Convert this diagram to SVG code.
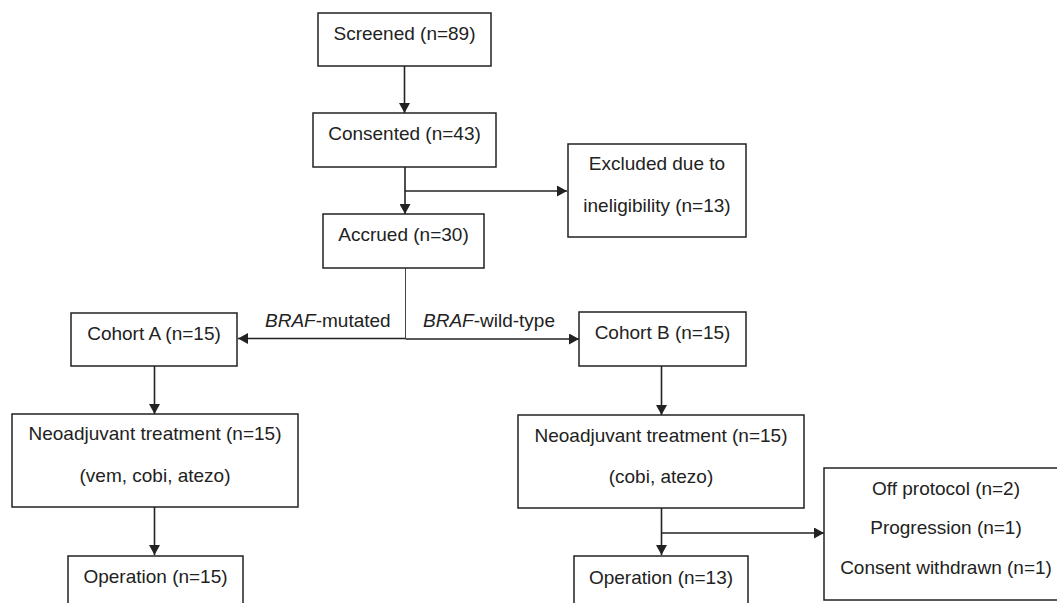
<svg xmlns="http://www.w3.org/2000/svg" width="1057" height="603" viewBox="0 0 1057 603">
<style>
.box{fill:#fff;stroke:#222;stroke-width:1.5}
.t{font-family:"Liberation Sans",Arial,sans-serif;font-size:19px;fill:#222;text-anchor:middle}
.lab{font-family:"Liberation Sans",Arial,sans-serif;font-size:19px;fill:#222}
.c{fill:none;stroke:#222;stroke-width:1.6}
.thin{fill:none;stroke:#444;stroke-width:1}
</style>
<defs>
<marker id="ah" viewBox="0 0 10 11" refX="10" refY="5.5" markerWidth="10" markerHeight="11" markerUnits="userSpaceOnUse" orient="auto">
<path d="M0,0 L10,5.5 L0,11 Z" fill="#222"/>
</marker>
</defs>
<rect width="1057" height="603" fill="#fff"/>
<g id="connectors">
<line class="c" x1="404.5" y1="66" x2="404.5" y2="113" marker-end="url(#ah)"/>
<line class="c" x1="405" y1="167" x2="405" y2="214" marker-end="url(#ah)"/>
<line class="c" x1="405" y1="191" x2="567" y2="191" marker-end="url(#ah)"/>
<line class="thin" x1="405.5" y1="268" x2="405.5" y2="338.5"/>
<line class="c" x1="405.5" y1="338.5" x2="238" y2="338.5" marker-end="url(#ah)"/>
<line class="c" x1="405.5" y1="339" x2="579" y2="339" marker-end="url(#ah)"/>
<line class="c" x1="154.5" y1="366" x2="154.5" y2="414" marker-end="url(#ah)"/>
<line class="c" x1="154.5" y1="507" x2="154.5" y2="555" marker-end="url(#ah)"/>
<line class="c" x1="661.5" y1="366" x2="661.5" y2="415" marker-end="url(#ah)"/>
<line class="c" x1="661.5" y1="508" x2="661.5" y2="555" marker-end="url(#ah)"/>
<line class="c" x1="661.5" y1="533" x2="824" y2="533" marker-end="url(#ah)"/>
<text class="lab" x="265" y="327"><tspan font-style="italic">BRAF</tspan>-mutated</text>
<text class="lab" x="423" y="327"><tspan font-style="italic">BRAF</tspan>-wild-type</text>
</g>
<g id="screened">
<rect class="box" x="318" y="13" width="173" height="53"/>
<text class="t" x="404.5" y="39.5">Screened (n=89)</text>
</g>
<g id="consented">
<rect class="box" x="313" y="113" width="183" height="54"/>
<text class="t" x="404.5" y="140">Consented (n=43)</text>
</g>
<g id="excluded">
<rect class="box" x="568" y="144" width="178" height="93"/>
<text class="t" x="657" y="170">Excluded due to</text>
<text class="t" x="657" y="212">ineligibility (n=13)</text>
</g>
<g id="accrued">
<rect class="box" x="323" y="214" width="161" height="54"/>
<text class="t" x="403.5" y="241">Accrued (n=30)</text>
</g>
<g id="cohortA">
<rect class="box" x="71" y="313" width="166" height="53"/>
<text class="t" x="154" y="339.5">Cohort A (n=15)</text>
</g>
<g id="cohortB">
<rect class="box" x="579" y="312" width="167" height="54"/>
<text class="t" x="662.5" y="339">Cohort B (n=15)</text>
</g>
<g id="neoA">
<rect class="box" x="12" y="414" width="286" height="93"/>
<text class="t" x="155" y="440">Neoadjuvant treatment (n=15)</text>
<text class="t" x="155" y="482">(vem, cobi, atezo)</text>
</g>
<g id="neoB">
<rect class="box" x="518" y="415" width="286" height="93"/>
<text class="t" x="661" y="441.5">Neoadjuvant treatment (n=15)</text>
<text class="t" x="661" y="483">(cobi, atezo)</text>
</g>
<g id="opA">
<rect class="box" x="68" y="556" width="175" height="60"/>
<text class="t" x="155.5" y="583">Operation (n=15)</text>
</g>
<g id="opB">
<rect class="box" x="574" y="556" width="174" height="60"/>
<text class="t" x="661" y="584">Operation (n=13)</text>
</g>
<g id="offprotocol">
<rect class="box" x="824" y="468" width="244" height="132"/>
<text class="t" x="946" y="495">Off protocol (n=2)</text>
<text class="t" x="946" y="534">Progression (n=1)</text>
<text class="t" x="946" y="574">Consent withdrawn (n=1)</text>
</g>
</svg>
